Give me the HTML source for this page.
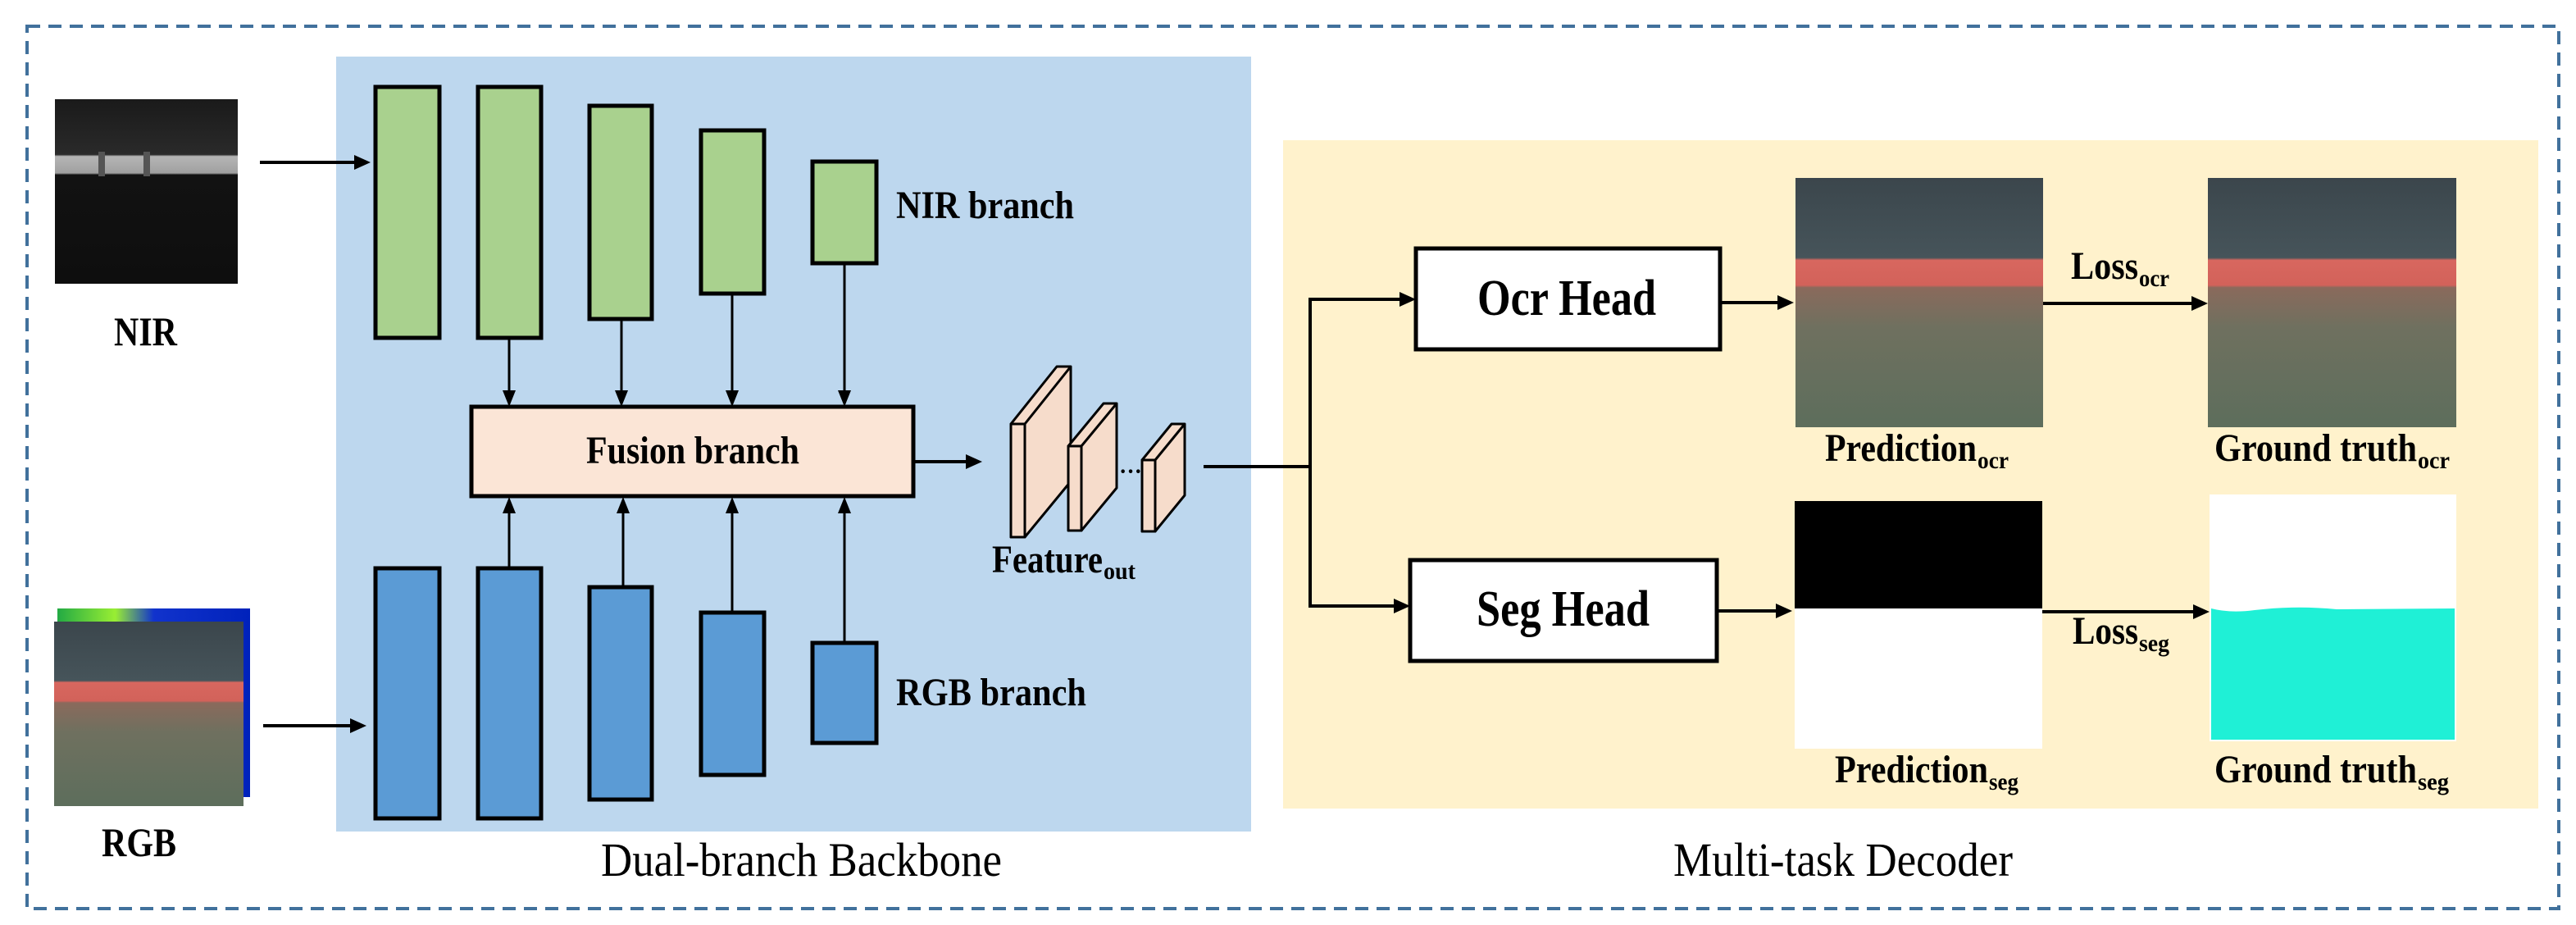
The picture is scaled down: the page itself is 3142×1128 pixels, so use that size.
<!DOCTYPE html>
<html><head><meta charset="utf-8"><style>
html,body{margin:0;padding:0;background:#fff}
svg{display:block}
</style></head><body>
<svg width="3142" height="1128" viewBox="0 0 3142 1128" xmlns="http://www.w3.org/2000/svg" font-family="Liberation Serif, serif">
<defs>
<linearGradient id="ship" x1="0" y1="0" x2="0" y2="1">
<stop offset="0" stop-color="#3b464c"/><stop offset="0.32" stop-color="#46545a"/>
<stop offset="0.33" stop-color="#d8675f"/><stop offset="0.43" stop-color="#d2625a"/>
<stop offset="0.44" stop-color="#8a6a5c"/><stop offset="0.6" stop-color="#6f705f"/>
<stop offset="1" stop-color="#5d6e5c"/></linearGradient>
<linearGradient id="nir" x1="0" y1="0" x2="0" y2="1">
<stop offset="0" stop-color="#1a1a1a"/><stop offset="0.3" stop-color="#2a2a2a"/>
<stop offset="0.31" stop-color="#b5b5b5"/><stop offset="0.4" stop-color="#a0a0a0"/>
<stop offset="0.41" stop-color="#121212"/><stop offset="1" stop-color="#0e0e0e"/></linearGradient>
<linearGradient id="heat" x1="0" y1="0" x2="1" y2="0">
<stop offset="0" stop-color="#22aa44"/><stop offset="0.3" stop-color="#99ee33"/><stop offset="0.5" stop-color="#1133cc"/><stop offset="1" stop-color="#0022bb"/></linearGradient>
</defs>

<rect x="33" y="32" width="3088" height="1076" fill="none" stroke="#41719c" stroke-width="4" stroke-dasharray="16,10"/>

<rect x="410" y="69" width="1116" height="945" fill="#bdd7ee"/>
<rect x="1565" y="171" width="1531" height="815" fill="#fff2cc"/>

<!-- NIR image -->
<rect x="67" y="121" width="223" height="225" fill="url(#nir)"/>
<rect x="120" y="185" width="8" height="30" fill="#555"/><rect x="175" y="185" width="8" height="30" fill="#555"/>
<text x="139" y="421" font-weight="bold" font-size="50" textLength="77" lengthAdjust="spacingAndGlyphs">NIR</text>
<line x1="317" y1="198" x2="440" y2="198" stroke="#000" stroke-width="4"/>
<polygon points="452,198 432,189 432,207" fill="#000"/>

<!-- RGB image -->
<rect x="70" y="742" width="235" height="230" fill="url(#heat)"/>
<rect x="66" y="758" width="231" height="225" fill="url(#ship)"/>
<text x="124" y="1044" font-weight="bold" font-size="50" textLength="91" lengthAdjust="spacingAndGlyphs">RGB</text>
<line x1="321" y1="885" x2="435" y2="885" stroke="#000" stroke-width="4"/>
<polygon points="447,885 427,876 427,894" fill="#000"/>

<g fill="#a9d18e" stroke="#000" stroke-width="5">
<rect x="458" y="106" width="78" height="306"/>
<rect x="583" y="106" width="77" height="306"/>
<rect x="719" y="129" width="76" height="260"/>
<rect x="855" y="159" width="77" height="199"/>
<rect x="991" y="197" width="78" height="124"/>
</g>
<text x="1093" y="266" font-weight="bold" font-size="48" textLength="217" lengthAdjust="spacingAndGlyphs">NIR branch</text>

<g fill="#5b9bd5" stroke="#000" stroke-width="5">
<rect x="458" y="693" width="78" height="305"/>
<rect x="583" y="693" width="77" height="305"/>
<rect x="719" y="716" width="76" height="259"/>
<rect x="855" y="747" width="77" height="198"/>
<rect x="991" y="784" width="78" height="122"/>
</g>
<text x="1093" y="860" font-weight="bold" font-size="48" textLength="232" lengthAdjust="spacingAndGlyphs">RGB branch</text>

<g stroke="#000" stroke-width="3">
<line x1="621" y1="412" x2="621" y2="482"/><line x1="758" y1="389" x2="758" y2="482"/>
<line x1="893" y1="358" x2="893" y2="482"/><line x1="1030" y1="321" x2="1030" y2="482"/>
<line x1="621" y1="693" x2="621" y2="620"/><line x1="760" y1="716" x2="760" y2="620"/>
<line x1="893" y1="747" x2="893" y2="620"/><line x1="1030" y1="784" x2="1030" y2="620"/>
</g>
<g fill="#000">
<polygon points="621,496 613,476 629,476"/><polygon points="758,496 750,476 766,476"/>
<polygon points="893,496 885,476 901,476"/><polygon points="1030,496 1022,476 1038,476"/>
<polygon points="621,606 613,626 629,626"/><polygon points="760,606 752,626 768,626"/>
<polygon points="893,606 885,626 901,626"/><polygon points="1030,606 1022,626 1038,626"/>
</g>

<rect x="575" y="496" width="539" height="109" fill="#fbe5d6" stroke="#000" stroke-width="5"/>
<text x="715" y="565" font-weight="bold" font-size="48" textLength="260" lengthAdjust="spacingAndGlyphs">Fusion branch</text>
<line x1="1114" y1="563" x2="1184" y2="563" stroke="#000" stroke-width="4"/>
<polygon points="1198,563 1178,554 1178,572" fill="#000"/>

<g fill="#f6dccb" stroke="#000" stroke-width="3" stroke-linejoin="round">
<polygon points="1233,517 1289,447 1306,447 1306,587 1250,655 1233,655"/>
<line x1="1250" y1="517" x2="1306" y2="447"/><rect x="1233" y="517" width="17" height="138"/>
<polygon points="1303,544 1346,492 1362,492 1362,595 1319,647 1303,647"/>
<line x1="1319" y1="544" x2="1362" y2="492"/><rect x="1303" y="544" width="16" height="103"/>
<polygon points="1393,561 1429,517 1445,517 1445,604 1409,648 1393,648"/>
<line x1="1409" y1="561" x2="1445" y2="517"/><rect x="1393" y="561" width="16" height="87"/>
</g>
<text x="1365" y="584" font-weight="bold" font-size="28">···</text>
<text x="1210" y="698" font-weight="bold" font-size="48" textLength="135" lengthAdjust="spacingAndGlyphs">Feature</text>
<text x="1346" y="706" font-weight="bold" font-size="30" textLength="39" lengthAdjust="spacingAndGlyphs">out</text>

<text x="733" y="1068" font-size="58" textLength="489" lengthAdjust="spacingAndGlyphs">Dual-branch Backbone</text>
<text x="2041" y="1068" font-size="58" textLength="414" lengthAdjust="spacingAndGlyphs">Multi-task Decoder</text>

<g stroke="#000" stroke-width="4" fill="none">
<polyline points="1468,569 1598,569"/>
<polyline points="1713,365 1598,365 1598,739 1706,739"/>
<line x1="2098" y1="369" x2="2174" y2="369"/>
<line x1="2094" y1="745" x2="2172" y2="745"/>
<line x1="2491" y1="370" x2="2679" y2="370"/>
<line x1="2491" y1="746" x2="2681" y2="746"/>
</g>
<g fill="#000">
<polygon points="1727,365 1707,356 1707,374"/><polygon points="1720,739 1700,730 1700,748"/>
<polygon points="2188,369 2168,360 2168,378"/><polygon points="2186,745 2166,736 2166,754"/>
<polygon points="2693,370 2673,361 2673,379"/><polygon points="2695,746 2675,737 2675,755"/>
</g>

<rect x="1727" y="303" width="371" height="123" fill="#fff" stroke="#000" stroke-width="5"/>
<text x="1802" y="384" font-weight="bold" font-size="62" textLength="218" lengthAdjust="spacingAndGlyphs">Ocr Head</text>
<rect x="1720" y="683" width="374" height="123" fill="#fff" stroke="#000" stroke-width="5"/>
<text x="1801" y="763" font-weight="bold" font-size="62" textLength="211" lengthAdjust="spacingAndGlyphs">Seg Head</text>

<rect x="2190" y="217" width="302" height="304" fill="url(#ship)"/>
<rect x="2693" y="217" width="303" height="304" fill="url(#ship)"/>
<rect x="2189" y="611" width="302" height="302" fill="#fff"/>
<rect x="2189" y="611" width="302" height="131" fill="#000"/>
<rect x="2695" y="603" width="301" height="301" fill="#fff"/>
<path d="M2697,742 Q2720,748 2750,744 Q2800,738 2850,743 L2994,742 L2994,902 L2697,902 Z" fill="#1ff0d6"/>

<g font-weight="bold">
<text x="2526" y="340" font-size="48" textLength="82" lengthAdjust="spacingAndGlyphs">Loss</text>
<text x="2609" y="349" font-size="30" textLength="37" lengthAdjust="spacingAndGlyphs">ocr</text>
<text x="2528" y="785" font-size="48" textLength="80" lengthAdjust="spacingAndGlyphs">Loss</text>
<text x="2609" y="794" font-size="30" textLength="37" lengthAdjust="spacingAndGlyphs">seg</text>
<text x="2226" y="562" font-size="48" textLength="185" lengthAdjust="spacingAndGlyphs">Prediction</text>
<text x="2412" y="571" font-size="30" textLength="38" lengthAdjust="spacingAndGlyphs">ocr</text>
<text x="2701" y="562" font-size="48" textLength="247" lengthAdjust="spacingAndGlyphs">Ground truth</text>
<text x="2949" y="571" font-size="30" textLength="39" lengthAdjust="spacingAndGlyphs">ocr</text>
<text x="2238" y="954" font-size="48" textLength="187" lengthAdjust="spacingAndGlyphs">Prediction</text>
<text x="2426" y="963" font-size="30" textLength="36" lengthAdjust="spacingAndGlyphs">seg</text>
<text x="2701" y="954" font-size="48" textLength="247" lengthAdjust="spacingAndGlyphs">Ground truth</text>
<text x="2949" y="963" font-size="30" textLength="38" lengthAdjust="spacingAndGlyphs">seg</text>
</g>
</svg>
</body></html>
